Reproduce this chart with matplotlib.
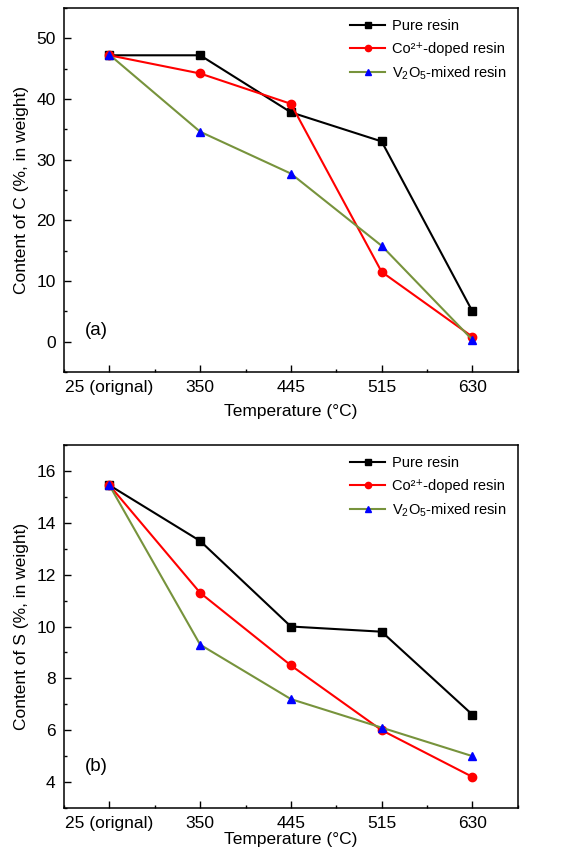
import matplotlib
matplotlib.use("Agg")
import matplotlib.pyplot as plt
from matplotlib.ticker import MultipleLocator

plt.rcParams["font.family"] = ["Liberation Sans", "DejaVu Sans"]
plt.rcParams["mathtext.fontset"] = "custom"
plt.rcParams["mathtext.rm"] = "Liberation Sans"

temps = ["25 (orignal)", "350", "445", "515", "630"]
series_names = ["Pure resin", "Co\u00b2\u207a-doped resin", "V$_2$O$_5$-mixed resin"]

carbon_pure = [47.2, 47.2, 37.8, 33.0, 5.0]
carbon_co = [47.2, 44.2, 39.2, 11.5, 0.8]
carbon_v = [47.3, 34.6, 27.7, 15.8, 0.3]

sulfur_pure = [15.45, 13.3, 10.0, 9.8, 6.6]
sulfur_co = [15.45, 11.3, 8.5, 6.0, 4.2]
sulfur_v = [15.45, 9.3, 7.2, 6.1, 5.0]

styles = [
    dict(color="black", marker="s", mfc="black", mec="black"),
    dict(color="#ff0000", marker="o", mfc="#ff0000", mec="#ff0000"),
    dict(color="#77933c", marker="^", mfc="#0000ff", mec="#0000ff"),
]

fig = plt.figure(figsize=(5.64, 8.57), dpi=100)
ax_a = fig.add_axes([0.1135, 0.566, 0.8045, 0.4247])
ax_b = fig.add_axes([0.1135, 0.0572, 0.8045, 0.4235])

panels = [
    (ax_a, [carbon_pure, carbon_co, carbon_v], "Content of C (%, in weight)",
     (-5, 55), 10, 5, "(a)", 6),
    (ax_b, [sulfur_pure, sulfur_co, sulfur_v], "Content of S (%, in weight)",
     (3, 17), 2, 1, "(b)", 0.5),
]

x = list(range(len(temps)))
for ax, data, ylabel, ylim, major, minor, tag, xpad in panels:
    for vals, name, st in zip(data, series_names, styles):
        ax.plot(x, vals, linewidth=1.5, markersize=6, label=name, **st)
    ax.set_xlim(-0.5, 4.5)
    ax.set_ylim(*ylim)
    ax.set_xticks(x)
    ax.set_xticklabels(temps)
    ax.xaxis.set_minor_locator(MultipleLocator(0.5))
    ax.yaxis.set_major_locator(MultipleLocator(major))
    ax.yaxis.set_minor_locator(MultipleLocator(minor))
    ax.tick_params(which="major", direction="in", length=5, width=1, labelsize=12.5,
                   top=False, right=False, pad=6)
    ax.tick_params(which="minor", direction="in", length=2.5, width=1,
                   top=False, right=False)
    for sp in ax.spines.values():
        sp.set_linewidth(1.1)
    ax.set_xlabel("Temperature (\u00b0C)", fontsize=12.5, labelpad=xpad)
    ax.set_ylabel(ylabel, fontsize=12.5, labelpad=5)
    ax.text(0.046, 0.113, tag, transform=ax.transAxes, fontsize=13.5,
            ha="left", va="center")
    ax.legend(loc="upper right", frameon=False, fontsize=10.5, handlelength=2.4,
              markerscale=0.75, borderaxespad=0.35, labelspacing=0.6,
              handletextpad=0.5)

fig.savefig("out.png", dpi=100)
